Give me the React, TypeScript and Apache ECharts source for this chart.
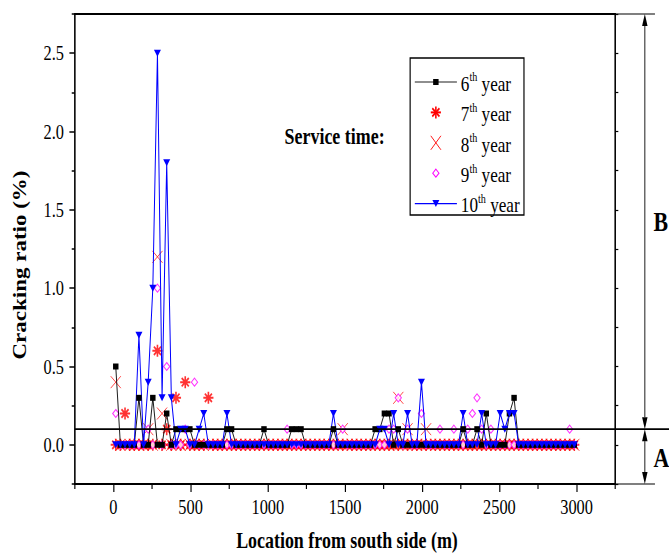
import { useEffect, useRef } from 'react';
import * as echarts from 'echarts';

// Page size and the horizontal squeeze applied to the drawing surface
const W = 669;
const H = 555;
const CW = 858;
const SQUEEZE = W / CW;

const FONT = '"Liberation Serif", "Times New Roman", serif';

// Survey stations (m from the south side)
const locations = [
  15, 45, 75, 105, 135, 165, 195, 225, 255, 285,
  315, 345, 375, 405, 435, 465, 495, 525, 555, 585,
  615, 645, 675, 705, 735, 765, 795, 825, 855, 885,
  915, 945, 975, 1005, 1035, 1065, 1095, 1125, 1155, 1185,
  1215, 1245, 1275, 1305, 1335, 1365, 1395, 1425, 1455, 1485,
  1515, 1545, 1575, 1605, 1635, 1665, 1695, 1725, 1755, 1785,
  1815, 1845, 1875, 1905, 1935, 1965, 1995, 2025, 2055, 2085,
  2115, 2145, 2175, 2205, 2235, 2265, 2295, 2325, 2355, 2385,
  2415, 2445, 2475, 2505, 2535, 2565, 2595, 2625, 2655, 2685,
  2715, 2745, 2775, 2805, 2835, 2865, 2895, 2925, 2955, 2985,
];

// Cracking ratio (%) per service year
const year6 = [
  0.5, 0, 0, 0, 0, 0.3, 0, 0, 0.3, 0,
  0, 0.2, 0, 0.1, 0.1, 0.1, 0.1, 0, 0, 0,
  0, 0, 0, 0, 0.1, 0.1, 0, 0, 0, 0,
  0, 0, 0.1, 0, 0, 0, 0, 0, 0.1, 0.1,
  0.1, 0, 0, 0, 0, 0, 0, 0.1, 0, 0,
  0, 0, 0, 0, 0, 0, 0.1, 0.1, 0.2, 0.2,
  0, 0.1, 0, 0, 0, 0, 0, 0, 0, 0,
  0, 0, 0, 0, 0, 0.1, 0, 0, 0.1, 0,
  0.2, 0, 0, 0, 0, 0.2, 0.3, 0, 0, 0,
  0, 0, 0, 0, 0, 0, 0, 0, 0, 0,
];
const year7 = [
  0, 0, 0.2, 0, 0, 0, 0, 0, 0, 0.6,
  0, 0.1, 0, 0.3, 0, 0.4, 0, 0, 0, 0,
  0.3, 0, 0, 0, 0, 0, 0, 0, 0, 0,
  0, 0, 0, 0, 0, 0, 0, 0, 0, 0,
  0, 0, 0, 0, 0, 0, 0, 0, 0, 0,
  0, 0, 0, 0, 0, 0, 0, 0, 0, 0,
  0, 0, 0, 0, 0, 0, 0, 0, 0, 0,
  0, 0, 0, 0, 0, 0, 0, 0, 0, 0,
  0, 0, 0, 0, 0, 0, 0, 0, 0, 0,
  0, 0, 0, 0, 0, 0, 0, 0, 0, 0,
];
const year8 = [
  0.4, 0, 0, 0, 0, 0, 0, 0.1, 0, 1.2,
  0.2, 0, 0, 0, 0, 0, 0, 0, 0, 0,
  0, 0, 0, 0, 0, 0, 0, 0, 0, 0,
  0, 0, 0, 0, 0, 0, 0, 0, 0, 0,
  0, 0, 0, 0, 0, 0, 0, 0, 0, 0.1,
  0, 0, 0, 0, 0, 0, 0, 0, 0, 0,
  0, 0.3, 0, 0.1, 0, 0, 0, 0.1, 0, 0,
  0, 0, 0, 0, 0, 0, 0, 0, 0, 0,
  0, 0, 0, 0, 0, 0, 0, 0, 0, 0,
  0, 0, 0, 0, 0, 0, 0, 0, 0, 0,
];
const year9 = [
  0.2, 0, 0, 0, 0, 0, 0, 0.1, 0, 1.0,
  0, 0.5, 0, 0, 0, 0.1, 0, 0.4, 0, 0,
  0, 0, 0, 0, 0, 0, 0, 0, 0, 0,
  0, 0, 0, 0, 0, 0, 0, 0.1, 0, 0,
  0, 0, 0, 0, 0, 0, 0, 0, 0, 0.1,
  0, 0, 0, 0, 0, 0, 0, 0, 0, 0.1,
  0.1, 0.3, 0, 0.1, 0, 0, 0.2, 0, 0, 0,
  0.1, 0, 0, 0.1, 0, 0, 0.1, 0.2, 0.3, 0.1,
  0, 0.1, 0, 0, 0, 0, 0, 0, 0, 0,
  0, 0, 0, 0, 0, 0, 0, 0, 0.1, 0,
];
const year10 = [
  0, 0, 0, 0, 0, 0.7, 0, 0.4, 1.0, 2.5,
  0.3, 1.8, 0.3, 0, 0.1, 0.1, 0, 0, 0.1, 0.2,
  0, 0, 0, 0, 0.2, 0, 0, 0, 0, 0,
  0, 0, 0, 0, 0, 0, 0, 0, 0, 0,
  0, 0, 0, 0, 0, 0, 0, 0.2, 0, 0,
  0, 0, 0, 0, 0, 0, 0, 0.1, 0.1, 0,
  0.2, 0, 0, 0.2, 0, 0, 0.4, 0, 0, 0,
  0, 0, 0, 0, 0, 0.2, 0, 0, 0, 0.2,
  0, 0, 0, 0.2, 0.1, 0.2, 0.2, 0, 0, 0,
  0, 0, 0, 0, 0, 0, 0, 0, 0, 0,
];

// Axis ticks
const xMajorTicks = [0, 500, 1000, 1500, 2000, 2500, 3000];
const xMinorTicks = [-250, 250, 750, 1250, 1750, 2250, 2750, 3250];
const yMajorTicks = [0, 0.5, 1.0, 1.5, 2.0, 2.5];
const yMinorTicks = [-0.25, 0.25, 0.75, 1.25, 1.75, 2.25, 2.75];
const yRightTicks = [-0.25, 0, 0.25, 0.5, 0.75, 1.0, 1.25, 1.5, 1.75, 2.0, 2.25, 2.5, 2.75];

// Service years shown in the key
const yearOrdinals = ['6', '7', '8', '9', '10'];
const thresholdRatio = 0.1;

const STAR = 'path://M6 0L6 12M0 6L12 6M1.8 1.8L10.2 10.2M10.2 1.8L1.8 10.2';
const CROSS = 'path://M0 0L12 12M12 0L0 12';

const RED = '#ff0000';
const BLUE = '#0000ff';
const MAGENTA = '#ff00ff';

export default function App() {
  const ref = useRef<HTMLDivElement>(null);

  useEffect(() => {
    if (!ref.current) return;
    const chart = echarts.init(ref.current, null, { renderer: 'svg' });
    const pairs = (vals: number[]) => locations.map((x, i) => [x, vals[i]]);

    const hiddenAxisBits = {
      axisLabel: { show: false },
      splitLine: { show: false },
    };
    const tickLabel = { fontFamily: FONT, fontSize: 21, color: '#000' };

    chart.setOption({
      animation: false,
      backgroundColor: '#fff',
      textStyle: { fontFamily: FONT },
      grid: { left: 96, right: 69, top: 14, bottom: 71, containLabel: false, outerBoundsMode: 'none' },
      xAxis: [
        {
          type: 'value', position: 'bottom', min: -250, max: 3250,
          axisLine: { show: true, onZero: false, lineStyle: { color: '#000', width: 2 } },
          axisTick: { show: true, customValues: xMajorTicks, length: 8, lineStyle: { color: '#000', width: 1.5 } },
          axisLabel: {
            show: true, customValues: xMajorTicks, margin: 12, ...tickLabel,
            formatter: (v: number) => String(v),
          },
          splitLine: { show: false },
        },
        {
          type: 'value', position: 'bottom', min: -250, max: 3250,
          axisLine: { show: false, onZero: false },
          axisTick: { show: true, customValues: xMinorTicks, length: 5, lineStyle: { color: '#000', width: 1.5 } },
          ...hiddenAxisBits,
        },
        {
          type: 'value', position: 'top', min: -250, max: 3250,
          axisLine: { show: true, onZero: false, lineStyle: { color: '#000', width: 2 } },
          axisTick: { show: false },
          ...hiddenAxisBits,
        },
      ],
      yAxis: [
        {
          type: 'value', position: 'left', min: -0.25, max: 2.75,
          axisLine: { show: true, onZero: false, lineStyle: { color: '#000', width: 2 } },
          axisTick: { show: true, customValues: yMajorTicks, length: 7, lineStyle: { color: '#000', width: 1.5 } },
          axisLabel: {
            show: true, customValues: yMajorTicks, margin: 14, ...tickLabel,
            formatter: (v: number) => v.toFixed(1),
          },
          splitLine: { show: false },
        },
        {
          type: 'value', position: 'left', min: -0.25, max: 2.75,
          axisLine: { show: false, onZero: false },
          axisTick: { show: true, customValues: yMinorTicks, length: 4, lineStyle: { color: '#000', width: 1.5 } },
          ...hiddenAxisBits,
        },
        {
          type: 'value', position: 'right', min: -0.25, max: 2.75,
          axisLine: { show: true, onZero: false, lineStyle: { color: '#000', width: 2 } },
          axisTick: { show: true, customValues: yRightTicks, length: 4, lineStyle: { color: '#000', width: 1.2 } },
          ...hiddenAxisBits,
        },
      ],
      legend: { show: false },
      series: [
        {
          name: '6th year', type: 'line', data: pairs(year6),
          symbol: 'rect', symbolSize: [7, 6], showSymbol: true,
          itemStyle: { color: '#000' }, lineStyle: { color: '#000', width: 1 },
        },
        {
          name: '7th year', type: 'scatter', data: pairs(year7),
          symbol: STAR, symbolSize: [13, 12],
          itemStyle: { color: 'rgba(0,0,0,0)', borderColor: RED, borderWidth: 2 },
        },
        {
          name: '8th year', type: 'scatter', data: pairs(year8),
          symbol: CROSS, symbolSize: [13, 12],
          itemStyle: { color: 'rgba(0,0,0,0)', borderColor: RED, borderWidth: 1 },
        },
        {
          name: '9th year', type: 'scatter', data: pairs(year9),
          symbol: 'diamond', symbolSize: [8, 8],
          itemStyle: { color: '#fff', borderColor: MAGENTA, borderWidth: 1.2 },
        },
        {
          name: '10th year', type: 'line', data: pairs(year10),
          symbol: 'triangle', symbolRotate: 180, symbolSize: [9, 7], showSymbol: true,
          itemStyle: { color: BLUE }, lineStyle: { color: BLUE, width: 1.3 },
        },
      ],
    });

    const px = (v: number) => chart.convertToPixel({ xAxisIndex: 0 }, v) as number;
    const py = (v: number) => chart.convertToPixel({ yAxisIndex: 0 }, v) as number;
    const xL = px(-250);
    const xR = px(3250);
    const yT = py(2.75);
    const yB = py(-0.25);
    const yTh = py(thresholdRatio);

    const ax = 827;
    const head = 12;
    const hw = 3.5;
    const black = { stroke: '#000', lineWidth: 1.2 };

    const textStyle = (text: string, size: number, weight: string, align: string, vAlign = 'middle') => ({
      text, fontSize: size, fontWeight: weight, fontFamily: FONT, fill: '#000',
      align, verticalAlign: vAlign, textAlign: align, textVerticalAlign: vAlign,
    });

    const graphics: any[] = [
      // threshold line at 0.1 %, running past the frame to the brackets
      { type: 'line', shape: { x1: xL, y1: yTh, x2: CW, y2: yTh }, style: { stroke: '#000', lineWidth: 1.6 }, z: 50 },
      { type: 'line', shape: { x1: xR, y1: yT, x2: 840, y2: yT }, style: black, z: 50 },
      { type: 'line', shape: { x1: xR, y1: yB, x2: 840, y2: yB }, style: black, z: 50 },
      // bracket B
      { type: 'line', shape: { x1: ax, y1: yT + head, x2: ax, y2: yTh - head }, style: { stroke: '#000', lineWidth: 1 }, z: 50 },
      { type: 'polygon', shape: { points: [[ax, yT], [ax - hw, yT + head], [ax + hw, yT + head]] }, style: { fill: '#000' }, z: 50 },
      { type: 'polygon', shape: { points: [[ax, yTh], [ax - hw, yTh - head], [ax + hw, yTh - head]] }, style: { fill: '#000' }, z: 50 },
      // bracket A
      { type: 'line', shape: { x1: ax, y1: yTh + head, x2: ax, y2: yB - head }, style: { stroke: '#000', lineWidth: 1 }, z: 50 },
      { type: 'polygon', shape: { points: [[ax, yTh], [ax - hw, yTh + head], [ax + hw, yTh + head]] }, style: { fill: '#000' }, z: 50 },
      { type: 'polygon', shape: { points: [[ax, yB], [ax - hw, yB - head], [ax + hw, yB - head]] }, style: { fill: '#000' }, z: 50 },
      { type: 'text', x: 838, y: (yT + yTh) / 2, style: textStyle('B', 28, 'bold', 'left'), z: 50 },
      { type: 'text', x: 838, y: (yTh + yB) / 2 + 1, style: textStyle('A', 28, 'bold', 'left'), z: 50 },
      // axis titles
      { type: 'text', x: 445, y: 540, style: textStyle('Location from south side (m)', 23, 'bold', 'center'), z: 50 },
      { type: 'text', x: 26, y: 265, rotation: Math.PI / 2, style: textStyle('Cracking ratio (%)', 23, 'bold', 'center'), z: 50 },
      // annotation
      { type: 'text', x: 365, y: 136, style: textStyle('Service time:', 23, 'bold', 'left'), z: 50 },
      // key frame
      { type: 'rect', shape: { x: 526, y: 58, width: 146, height: 157 }, style: { fill: 'none', stroke: '#000', lineWidth: 1.5 }, z: 50 },
    ];

    const keyX0 = 532;
    const keyX1 = 586;
    const kx = 559;
    yearOrdinals.forEach((ord, i) => {
      const y = 82 + i * 30.4;
      if (i === 0 || i === 4) {
        graphics.push({
          type: 'line', shape: { x1: keyX0, y1: y, x2: keyX1, y2: y },
          style: { stroke: i === 0 ? '#000' : BLUE, lineWidth: i === 0 ? 1 : 1.3 }, z: 51,
        });
      }
      if (i === 0) {
        graphics.push({ type: 'rect', shape: { x: kx - 3.5, y: y - 3, width: 7, height: 6 }, style: { fill: '#000' }, z: 52 });
      } else if (i === 1) {
        const s = [[0, -6, 0, 6], [-6.5, 0, 6.5, 0], [-4.6, -4.2, 4.6, 4.2], [4.6, -4.2, -4.6, 4.2]];
        s.forEach(([a, b, c, d]) => graphics.push({
          type: 'line', shape: { x1: kx + a, y1: y + b, x2: kx + c, y2: y + d },
          style: { stroke: RED, lineWidth: 2 }, z: 52,
        }));
      } else if (i === 2) {
        [[-6.5, -7, 6.5, 7], [6.5, -7, -6.5, 7]].forEach(([a, b, c, d]) => graphics.push({
          type: 'line', shape: { x1: kx + a, y1: y + b, x2: kx + c, y2: y + d },
          style: { stroke: RED, lineWidth: 1 }, z: 52,
        }));
      } else if (i === 3) {
        graphics.push({
          type: 'polygon', shape: { points: [[kx, y - 4], [kx + 4, y], [kx, y + 4], [kx - 4, y]] },
          style: { fill: '#fff', stroke: MAGENTA, lineWidth: 1.2 }, z: 52,
        });
      } else {
        graphics.push({
          type: 'polygon', shape: { points: [[kx - 4.5, y - 3.5], [kx + 4.5, y - 3.5], [kx, y + 3.5]] },
          style: { fill: BLUE }, z: 52,
        });
      }
      graphics.push({
        type: 'text', x: 591, y: y + 1,
        style: {
          text: `{n|${ord}}{s|th}{n| year}`,
          fontFamily: FONT, fontSize: 21, fill: '#000',
          align: 'left', verticalAlign: 'middle', textAlign: 'left', textVerticalAlign: 'middle',
          rich: {
            n: { fontFamily: FONT, fontSize: 22, lineHeight: 24, fill: '#000', color: '#000' },
            s: { fontFamily: FONT, fontSize: 13, lineHeight: 15, verticalAlign: 'top', fill: '#000', color: '#000' },
          },
        },
        z: 52,
      });
    });

    chart.setOption({ graphic: graphics });

    return () => chart.dispose();
  }, []);

  return (
    <div style={{ position: 'fixed', left: 0, top: 0, width: W, height: H, overflow: 'hidden', background: '#fff' }}>
      <div
        ref={ref}
        style={{ width: CW, height: H, transform: `scaleX(${SQUEEZE})`, transformOrigin: '0 0' }}
      />
    </div>
  );
}
